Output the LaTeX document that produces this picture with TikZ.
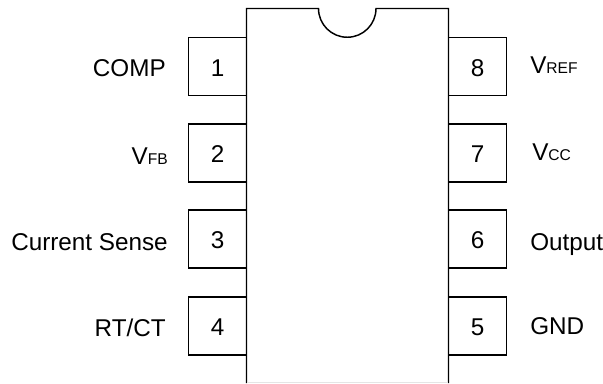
\documentclass[tikz,border=0pt]{standalone}
\usepackage{fontspec}
\setmainfont{Liberation Sans}
\newcommand{\subsm}[1]{{\fontsize{11.7pt}{14pt}\selectfont #1}}
\tikzset{
  x=0.75pt,y=-0.75pt,
  chip/.style={draw=black,line width=1.1pt,line join=miter},
  pinbox/.style={draw=black,line width=1.1pt,minimum width=43.5pt,minimum height=43.2pt,inner sep=0pt,text height=14.6pt,text depth=0pt,font=\fontsize{18.2pt}{20pt}\selectfont},
  pinname/.style={inner sep=0pt,font=\fontsize{18.2pt}{20pt}\selectfont,text=black}
}
\begin{document}
\begin{tikzpicture}
\useasboundingbox (0,0) rectangle (603,383);
\draw[chip] (246.5,383) -- (246.5,8.5) -- (318.5,8.5) arc[start angle=180,end angle=360,x radius=28.75,y radius=-28.75] -- (448.5,8.5) -- (448.5,383);
\draw[draw=black!10,line width=0.75pt] (247,382.5) -- (448,382.5);
\node[pinbox] (p1) at (217.5,66.5) {1};
\node[pinbox] (p2) at (217.5,153) {2};
\node[pinbox] (p3) at (217.5,239) {3};
\node[pinbox] (p4) at (217.5,326) {4};
\node[pinbox] (p8) at (477.5,66.5) {8};
\node[pinbox] (p7) at (477.5,153) {7};
\node[pinbox] (p6) at (477.5,239) {6};
\node[pinbox] (p5) at (477.5,326) {5};
\node[pinname,anchor=base east] (n1) at (166,76) {COMP};
\node[pinname,anchor=base east] (n2) at (168,164) {V\subsm{FB}};
\node[pinname,anchor=base east] (n3) at (168,250) {Current Sense};
\node[pinname,anchor=base east] (n4) at (166,336) {RT/CT};
\node[pinname,anchor=base west] (n8) at (530,73) {V\subsm{REF}};
\node[pinname,anchor=base west] (n7) at (532,160.7) {V\subsm{CC}};
\node[pinname,anchor=base west] (n6) at (530,250) {Output};
\node[pinname,anchor=base west] (n5) at (530,334) {GND};
\end{tikzpicture}
\end{document}
